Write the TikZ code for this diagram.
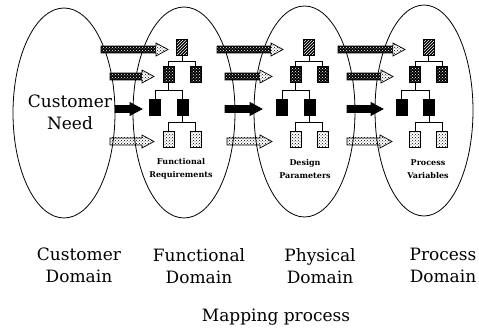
\documentclass[tikz,border=0pt]{standalone}
\usepackage{fontspec}
\setmainfont{DejaVu Serif}
\usetikzlibrary{patterns,shapes.geometric}

\tikzset{
  domainshape/.style={draw, ellipse, line width=0.8pt, inner sep=0pt},
  blk/.style={draw, line width=0.7pt, minimum width=11pt, minimum height=16pt, inner sep=0pt},
  rootbox/.style={blk, preaction={fill=black}, pattern=north east lines, pattern color=white},
  midbox/.style={blk, preaction={fill=black}, pattern=crosshatch dots, pattern color=white},
  solidbox/.style={blk, fill=black},
  leafbox/.style={blk, pattern=crosshatch dots, pattern color=black},
  link/.style={line width=0.7pt},
  darkshaft/.style={preaction={fill=black}, pattern=crosshatch dots, pattern color=white},
  darkhead/.style={pattern=crosshatch dots, pattern color=black},
  solidpart/.style={fill=black},
  lightshaft/.style={pattern=crosshatch dots, pattern color=black},
  arrowrim/.style={line width=0.7pt, line join=miter},
  bigtext/.style={font=\fontsize{17}{22}\selectfont, align=center, inner sep=0pt},
  smalltext/.style={font=\fontsize{8}{13}\selectfont\bfseries, align=center, inner sep=0pt},
}

% fat arrow: #1 shaft fill, #2 head fill, #3 x start, #4 x tip, #5 y
\newcommand\fatarrow[5]{%
  \fill[#1] (#3,#5-3.5) rectangle (#4-12,#5+3.5);
  \fill[#2] (#4-12,#5-6.5) -- (#4,#5) -- (#4-12,#5+6.5) -- cycle;
  \draw[arrowrim] (#3,#5-3.5) -- (#4-12,#5-3.5) -- (#4-12,#5-6.5) -- (#4,#5)
    -- (#4-12,#5+6.5) -- (#4-12,#5+3.5) -- (#3,#5+3.5) -- cycle;
}

% four-level hierarchy: #1 name prefix, #2 x of the root box
\newcommand\hierarchy[2]{%
  \node[rootbox]  (#1r) at (#2,47) {};
  \node[midbox]   (#1a) at (#2-13.5,74) {};
  \node[midbox]   (#1b) at (#2+13.5,74) {};
  \node[solidbox] (#1c) at (#2-27,107) {};
  \node[solidbox] (#1d) at (#2+0.5,107) {};
  \node[leafbox]  (#1e) at (#2-13.5,139) {};
  \node[leafbox]  (#1f) at (#2+13.5,139) {};
  \draw[link] (#1r.south) -- ++(0,6) coordinate (#1j1);
  \draw[link] (#1a.north) |- (#1j1) -| (#1b.north);
  \draw[link] (#1a.south) -- ++(0,8) coordinate (#1j2);
  \draw[link] (#1c.north) |- (#1j2) -| (#1d.north);
  \draw[link] (#1d.south) -- ++(0,7) coordinate (#1j3);
  \draw[link] (#1e.north) |- (#1j3) -| (#1f.north);
}

\begin{document}
\begin{tikzpicture}[x=1pt, y=-1pt]
\useasboundingbox (0,0) rectangle (479,328);

% the four domains
\node[domainshape, minimum width=102pt, minimum height=210pt] (cdom) at (64,113) {};
\node[domainshape, minimum width=102pt, minimum height=211pt] (fdom) at (184,112.5) {};
\node[domainshape, minimum width=101pt, minimum height=211pt] (pdom) at (304.5,111.5) {};
\node[domainshape, minimum width=98pt, minimum height=211pt] (vdom) at (424,110.5) {};

% hierarchies of FRs, DPs and PVs
\hierarchy{fr}{182}
\hierarchy{dp}{309}
\hierarchy{pv}{428.5}

% mapping arrows between neighbouring domains
\fatarrow{darkshaft}{darkhead}{101}{168}{49.5}
\fatarrow{darkshaft}{darkhead}{110}{154}{76.5}
\fatarrow{solidpart}{solidpart}{115}{142}{109}
\fatarrow{lightshaft}{lightshaft}{110}{154}{141.5}

\fatarrow{darkshaft}{darkhead}{217}{283}{49.5}
\fatarrow{darkshaft}{darkhead}{225}{272}{76.5}
\fatarrow{solidpart}{solidpart}{225}{262}{109}
\fatarrow{lightshaft}{lightshaft}{227}{272}{141.5}

\fatarrow{darkshaft}{darkhead}{338}{405}{49.5}
\fatarrow{darkshaft}{darkhead}{347}{393}{76.5}
\fatarrow{solidpart}{solidpart}{347}{383}{109}
\fatarrow{lightshaft}{lightshaft}{347}{392}{141.5}

% labels inside the domains
\node[bigtext, anchor=north] (need) at (70,95) {Customer\\Need};
\node[smalltext, anchor=north] (frlabel) at (181,158) {Functional\\Requirements};
\node[smalltext, anchor=north] (dplabel) at (305,159) {Design\\Parameters};
\node[smalltext, anchor=north] (pvlabel) at (428,159) {Process\\Variables};

% domain names and caption
\node[bigtext, anchor=north] (cname) at (79,248) {Customer\\Domain};
\node[bigtext, anchor=north] (fname) at (199,248) {Functional\\Domain};
\node[bigtext, anchor=north] (pname) at (320,248) {Physical\\Domain};
\node[bigtext, anchor=north] (vname) at (443,248) {Process\\Domain};
\node[bigtext, anchor=base] (caption) at (276,322) {Mapping process};
\end{tikzpicture}
\end{document}
